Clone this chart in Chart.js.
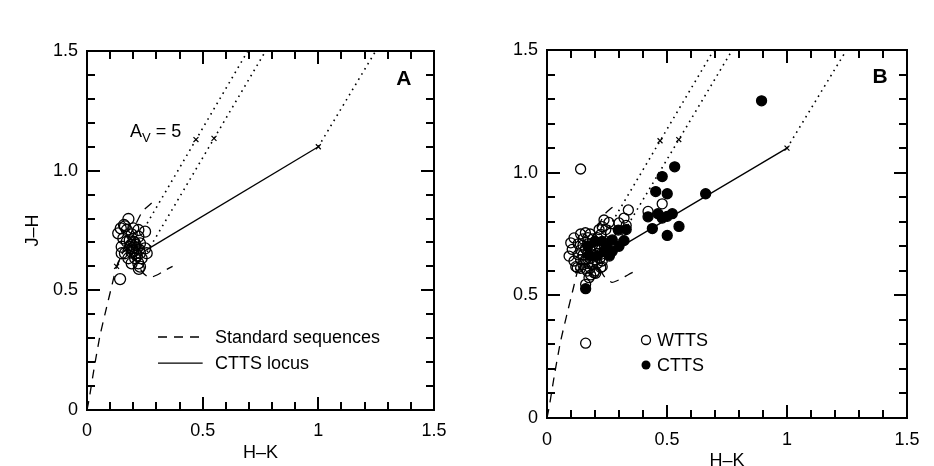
<!DOCTYPE html>
<html>
<head>
<meta charset="utf-8">
<script src="https://cdn.jsdelivr.net/npm/chart.js@4.4.0/dist/chart.umd.min.js"></script>
<style>
  html, body { margin: 0; padding: 0; background: #fff; overflow: hidden; }
  canvas { position: absolute; top: 0; }
</style>
</head>
<body>
<canvas id="chartA" width="467" height="466" style="left:0"></canvas>
<canvas id="chartB" width="467" height="476" style="left:467px"></canvas>
<script>
// axis tick labels (only the major ticks carry text) and tick mark positions
const xTickLabels = ['0', '0.5', '1', '1.5'];
const yTickLabels = ['0', '0.5', '1.0', '1.5'];
const tickValues = [0, 0.1, 0.2, 0.3, 0.4, 0.5, 0.6, 0.7, 0.8, 0.9, 1.0, 1.1, 1.2, 1.3, 1.4, 1.5];

// standard sequences (H-K, J-H)
const dwarfHK = [0, 0.01, 0.03, 0.056, 0.08, 0.11, 0.128, 0.16, 0.19, 0.21, 0.24, 0.27, 0.30, 0.34, 0.37];
const dwarfJH = [0, 0.05, 0.17, 0.31, 0.41, 0.53, 0.60, 0.665, 0.665, 0.625, 0.575, 0.553, 0.563, 0.585, 0.60];
const giantHK = [0.13, 0.17, 0.21, 0.24, 0.28];
const giantJH = [0.60, 0.70, 0.775, 0.83, 0.865];

// CTTS locus
const locusHK = [0.25, 1.0];
const locusJH = [0.665, 1.10];

// reddening vectors
const red1HK = [0.26, 0.695];
const red1JH = [0.78, 1.5];
const red2HK = [0.26, 0.772];
const red2JH = [0.66, 1.5];
const red3HK = [1.0, 1.248];
const red3JH = [1.10, 1.5];

// small x marks
const markHK = [0.128, 0.471, 0.549, 1.0];
const markJH = [0.60, 1.13, 1.135, 1.10];

// panel A stars
const starsAHK = [0.179, 0.16, 0.146, 0.2, 0.222, 0.251, 0.172, 0.193, 0.157, 0.222, 0.172, 0.2, 0.229, 0.15,
  0.186, 0.215, 0.251, 0.164, 0.193, 0.229, 0.258, 0.179, 0.208, 0.236, 0.193, 0.222, 0.229, 0.224, 0.143,
  0.15, 0.19, 0.205, 0.21, 0.2, 0.21, 0.195, 0.205, 0.215, 0.225, 0.185, 0.135, 0.164];
const starsAJH = [0.798, 0.773, 0.759, 0.759, 0.752, 0.745, 0.752, 0.734, 0.717, 0.724, 0.703, 0.703, 0.696, 0.682,
  0.682, 0.675, 0.675, 0.655, 0.661, 0.655, 0.655, 0.634, 0.634, 0.634, 0.613, 0.613, 0.599, 0.59, 0.547,
  0.655, 0.69, 0.68, 0.69, 0.665, 0.655, 0.675, 0.70, 0.645, 0.67, 0.71, 0.738, 0.767];

// panel B weak-line T Tauri stars
const wttsHK = [0.14, 0.161, 0.48, 0.339, 0.321, 0.30, 0.2375, 0.258, 0.23, 0.217, 0.245, 0.224, 0.265,
  0.1125, 0.099, 0.105, 0.092, 0.1125, 0.126, 0.12, 0.168, 0.196, 0.175, 0.182, 0.203, 0.224, 0.23, 0.224,
  0.161, 0.14, 0.23, 0.421, 0.33,
  0.14, 0.16, 0.18, 0.15, 0.17, 0.19, 0.21, 0.13, 0.15, 0.17, 0.19, 0.21, 0.14, 0.16, 0.18, 0.20, 0.22,
  0.13, 0.15, 0.17, 0.19, 0.21, 0.14, 0.16, 0.18, 0.20, 0.22, 0.15, 0.17, 0.19, 0.21, 0.16, 0.18, 0.20];
const wttsJH = [1.015, 0.305, 0.873, 0.848, 0.815, 0.795, 0.807, 0.797, 0.78, 0.768, 0.768, 0.748, 0.753,
  0.734, 0.714, 0.687, 0.66, 0.64, 0.613, 0.617, 0.599, 0.592, 0.572, 0.583, 0.59, 0.613, 0.64, 0.667,
  0.545, 0.61, 0.617, 0.842, 0.785,
  0.75, 0.755, 0.75, 0.73, 0.735, 0.73, 0.735, 0.71, 0.705, 0.71, 0.705, 0.71, 0.685, 0.69, 0.685, 0.69, 0.695,
  0.665, 0.665, 0.67, 0.665, 0.67, 0.645, 0.645, 0.65, 0.645, 0.65, 0.625, 0.63, 0.625, 0.63, 0.61, 0.61, 0.60];

// panel B classical T Tauri stars
const cttsHK = [0.894, 0.532, 0.48, 0.453, 0.501, 0.661, 0.421, 0.4625, 0.48, 0.501, 0.522, 0.55, 0.439,
  0.501, 0.33, 0.321, 0.297, 0.272, 0.30, 0.272, 0.161, 0.23, 0.25, 0.21, 0.24, 0.26, 0.17, 0.18, 0.20];
const cttsJH = [1.293, 1.024, 0.984, 0.923, 0.914, 0.914, 0.82, 0.833, 0.815, 0.822, 0.833, 0.781, 0.772,
  0.744, 0.768, 0.723, 0.766, 0.726, 0.70, 0.68, 0.527, 0.72, 0.70, 0.66, 0.68, 0.66, 0.70, 0.66, 0.72];

const FONT = '"Liberation Sans", Arial, Helvetica, sans-serif';
const DASH = [9, 7];
const DOT = [1.6, 4.4];

const pts = (hk, jh) => hk.map((x, i) => ({ x, y: jh[i] }));

const lineSet = (label, hk, jh, dash, width, tension) => ({
  label,
  data: pts(hk, jh),
  showLine: true,
  pointRadius: 0,
  borderColor: '#000',
  borderWidth: width,
  borderDash: dash,
  borderCapStyle: 'butt',
  tension: tension || 0,
  fill: false
});

const markSet = () => ({
  label: 'marks',
  data: pts(markHK, markJH),
  pointStyle: 'crossRot',
  pointRadius: 3.5,
  borderColor: '#000',
  borderWidth: 1.2
});

const starSet = (label, hk, jh, filled, radius) => ({
  label,
  data: pts(hk, jh),
  pointStyle: 'circle',
  pointRadius: radius,
  pointBorderWidth: 1.3,
  pointBorderColor: '#000',
  pointBackgroundColor: filled ? '#000' : 'rgba(0,0,0,0)'
});

function baseSets() {
  return [
    lineSet('Standard sequences', dwarfHK, dwarfJH, DASH, 1.3, 0.2),
    lineSet('giant', giantHK, giantJH, DASH, 1.3, 0.2),
    lineSet('CTTS locus', locusHK, locusJH, [], 1.3),
    lineSet('red1', red1HK, red1JH, DOT, 1.6),
    lineSet('red2', red2HK, red2JH, DOT, 1.6),
    lineSet('red3', red3HK, red3JH, DOT, 1.6),
    markSet()
  ];
}

function majorLabel(v, labels) {
  const i = Math.round(v * 2);
  return Math.abs(v * 2 - i) < 1e-6 ? labels[i] : '';
}

// inward ticks on all four sides plus the box
const framePlugin = {
  id: 'frame',
  afterDraw(chart) {
    const { ctx, chartArea: a } = chart;
    const xs = chart.scales.x, ys = chart.scales.y;
    ctx.save();
    ctx.setLineDash([]);
    ctx.fillStyle = '#000';
    ctx.strokeStyle = '#000';
    for (const v of tickValues) {
      const len = majorLabel(v, xTickLabels) ? 13 : 8;
      const px = Math.round(xs.getPixelForValue(v));
      ctx.fillRect(px - 1, a.bottom - len, 2, len);
      ctx.fillRect(px - 1, a.top, 2, len);
      const py = Math.round(ys.getPixelForValue(v));
      ctx.fillRect(a.left, py - 1, len, 2);
      ctx.fillRect(a.right - len, py - 1, len, 2);
    }
    ctx.lineWidth = 2;
    ctx.strokeRect(a.left, a.top, a.right - a.left, a.bottom - a.top);
    ctx.restore();
  }
};

// panel letter, A_V label and the in-plot legend
const decorPlugin = {
  id: 'decor',
  afterDraw(chart, args, opts) {
    const { ctx, scales: { x, y } } = chart;
    ctx.save();
    ctx.fillStyle = '#000';
    ctx.strokeStyle = '#000';

    ctx.font = 'bold 21px ' + FONT;
    ctx.textAlign = 'center';
    ctx.textBaseline = 'middle';
    ctx.fillText(opts.letter, x.getPixelForValue(opts.letterAt[0]), y.getPixelForValue(opts.letterAt[1]));

    if (opts.avAt) {
      let px = x.getPixelForValue(opts.avAt[0]);
      const py = y.getPixelForValue(opts.avAt[1]);
      ctx.textAlign = 'left';
      ctx.textBaseline = 'alphabetic';
      ctx.font = '18px ' + FONT;
      ctx.fillText('A', px, py);
      px += ctx.measureText('A').width;
      ctx.font = '13px ' + FONT;
      ctx.fillText('V', px, py + 5);
      px += ctx.measureText('V').width;
      ctx.font = '18px ' + FONT;
      ctx.fillText(' = 5', px, py);
    }

    ctx.font = '18px ' + FONT;
    ctx.textAlign = 'left';
    ctx.textBaseline = 'middle';
    opts.legend.forEach(item => {
      const py = y.getPixelForValue(item.at);
      const x0 = x.getPixelForValue(opts.sample[0]);
      const x1 = x.getPixelForValue(opts.sample[1]);
      if (item.kind === 'line') {
        ctx.lineWidth = 1.3;
        ctx.setLineDash(item.dash);
        ctx.beginPath();
        ctx.moveTo(x0, py);
        ctx.lineTo(x1, py);
        ctx.stroke();
        ctx.setLineDash([]);
      } else {
        ctx.lineWidth = 1.3;
        ctx.beginPath();
        ctx.arc(x0, py, 4.5, 0, Math.PI * 2);
        if (item.filled) ctx.fill(); else ctx.stroke();
      }
      ctx.fillText(item.text, x.getPixelForValue(opts.textAt), py + 1);
    });
    ctx.restore();
  }
};

function makeOptions(g, showYTitle, decor) {
  const font = { family: FONT, size: 18 };
  return {
    responsive: false,
    animation: false,
    events: [],
    layout: { padding: { top: g.top, right: g.right, left: 0, bottom: 0 } },
    plugins: { legend: { display: false }, tooltip: { enabled: false }, decor },
    scales: {
      x: {
        type: 'linear', min: 0, max: 1.5,
        afterFit: s => { s.height = g.xH; },
        grid: { display: false, drawTicks: false },
        border: { display: false },
        ticks: {
          stepSize: 0.1, autoSkip: false, maxRotation: 0, padding: g.xPad,
          color: '#000', font, callback: v => majorLabel(v, xTickLabels)
        },
        title: { display: true, text: 'H–K', color: '#000', font, padding: { top: 0, bottom: g.xTitlePad } }
      },
      y: {
        type: 'linear', min: 0, max: 1.5,
        afterFit: s => { s.width = g.yW; },
        grid: { display: false, drawTicks: false },
        border: { display: false },
        ticks: {
          stepSize: 0.1, autoSkip: false, padding: 9,
          color: '#000', font, callback: v => majorLabel(v, yTickLabels)
        },
        title: { display: showYTitle, text: 'J–H', color: '#000', font, padding: { top: 22, bottom: 0 } }
      }
    }
  };
}

new Chart(document.getElementById('chartA'), {
  type: 'scatter',
  data: {
    datasets: baseSets().concat([starSet('stars', starsAHK, starsAJH, false, 5.5)])
  },
  options: makeOptions(
    { top: 51, right: 33, xH: 56, yW: 87, xPad: 10, xTitlePad: 2 },
    true,
    {
      letter: 'A', letterAt: [1.37, 1.383], avAt: [0.186, 1.14],
      sample: [0.307, 0.50], textAt: 0.553,
      legend: [
        { kind: 'line', dash: DASH, text: 'Standard sequences', at: 0.305 },
        { kind: 'line', dash: [], text: 'CTTS locus', at: 0.196 }
      ]
    }
  ),
  plugins: [framePlugin, decorPlugin]
});

new Chart(document.getElementById('chartB'), {
  type: 'scatter',
  data: {
    datasets: baseSets().concat([
      starSet('WTTS', wttsHK, wttsJH, false, 5),
      starSet('CTTS', cttsHK, cttsJH, true, 5)
    ])
  },
  options: makeOptions(
    { top: 50, right: 27, xH: 58, yW: 80, xPad: 11, xTitlePad: 4 },
    false,
    {
      letter: 'B', letterAt: [1.3875, 1.39], avAt: null,
      sample: [0.4125, 0.4125], textAt: 0.458,
      legend: [
        { kind: 'point', filled: false, text: 'WTTS', at: 0.318 },
        { kind: 'point', filled: true, text: 'CTTS', at: 0.216 }
      ]
    }
  ),
  plugins: [framePlugin, decorPlugin]
});
</script>
</body>
</html>
